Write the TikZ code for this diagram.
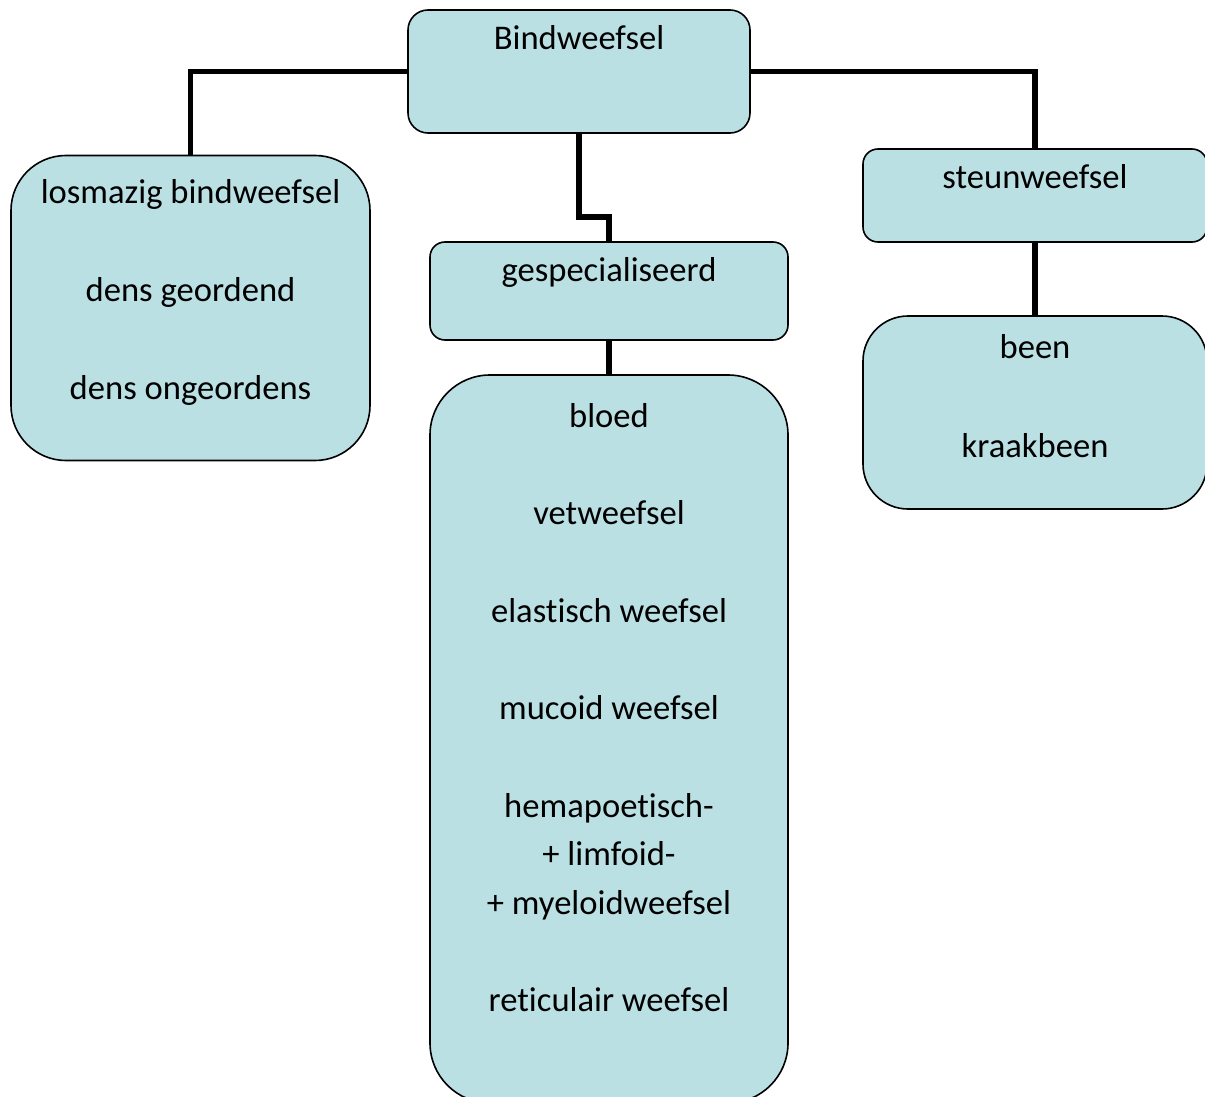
\documentclass[tikz,border=0pt]{standalone}
\usepackage{fontspec}
\setmainfont{Carlito}[Ligatures=NoCommon]
\begin{document}
\begin{tikzpicture}[x=1pt,y=-1pt,
  box/.style={draw=black,line width=1.6pt,fill=tissue,rectangle,inner sep=0pt},
  conn/.style={line width=5.5pt,draw=black},
  lbl/.style={anchor=base,inner sep=0pt,font=\fontsize{34.6}{41}\selectfont}]
\definecolor{tissue}{RGB}{186,224,228}
\useasboundingbox (0,0) rectangle (1205,1097);
\clip (0,0) rectangle (1205,1097);

% boxes (centre, size, corner radius)
\node[box,minimum width=342pt,minimum height=123pt,rounded corners=20pt] (bind) at (579,71.5) {};
\node[box,minimum width=359pt,minimum height=305pt,rounded corners=55pt] (los) at (190.5,308) {};
\node[box,minimum width=358pt,minimum height=98pt,rounded corners=15pt] (gesp) at (609,291) {};
\node[box,minimum width=358pt,minimum height=728pt,rounded corners=60pt] (spec) at (609,739) {};
\node[box,minimum width=344pt,minimum height=93pt,rounded corners=15pt] (steun) at (1035,195.5) {};
\node[box,minimum width=344pt,minimum height=193pt,rounded corners=45pt] (been) at (1035,412.5) {};

% connectors
\draw[conn] (bind.west) -| (los.north);
\draw[conn] (bind.east) -| (steun.north);
\draw[conn] (bind.south) -- ++(0,83) coordinate (jog) -| (gesp.north);
\draw[conn] (gesp.south) -- (spec.north);
\draw[conn] (steun.south) -- (been.north);

% labels
\node[lbl] (tBind) at (579,50) {Bindweefsel};
\node[lbl] (tLos1) at (190.5,203) {losmazig bindweefsel};
\node[lbl] (tLos2) at (190.5,301) {dens geordend};
\node[lbl] (tLos3) at (190.5,399) {dens ongeordens};
\node[lbl] (tGesp) at (609,281) {gespecialiseerd};
\node[lbl] (tS1) at (609,427) {bloed};
\node[lbl] (tS2) at (609,524) {vetweefsel};
\node[lbl] (tS3) at (609,622) {elastisch weefsel};
\node[lbl] (tS4) at (609,719) {mucoid weefsel};
\node[lbl] (tS5) at (609,817) {hemapoetisch-};
\node[lbl] (tS6) at (609,865) {+ limfoid-};
\node[lbl] (tS7) at (609,914) {+ myeloidweefsel};
\node[lbl] (tS8) at (609,1011) {reticulair weefsel};
\node[lbl] (tSteun) at (1035,188) {steunweefsel};
\node[lbl] (tBeen1) at (1035,358) {been};
\node[lbl] (tBeen2) at (1035,457) {kraakbeen};
\end{tikzpicture}
\end{document}
